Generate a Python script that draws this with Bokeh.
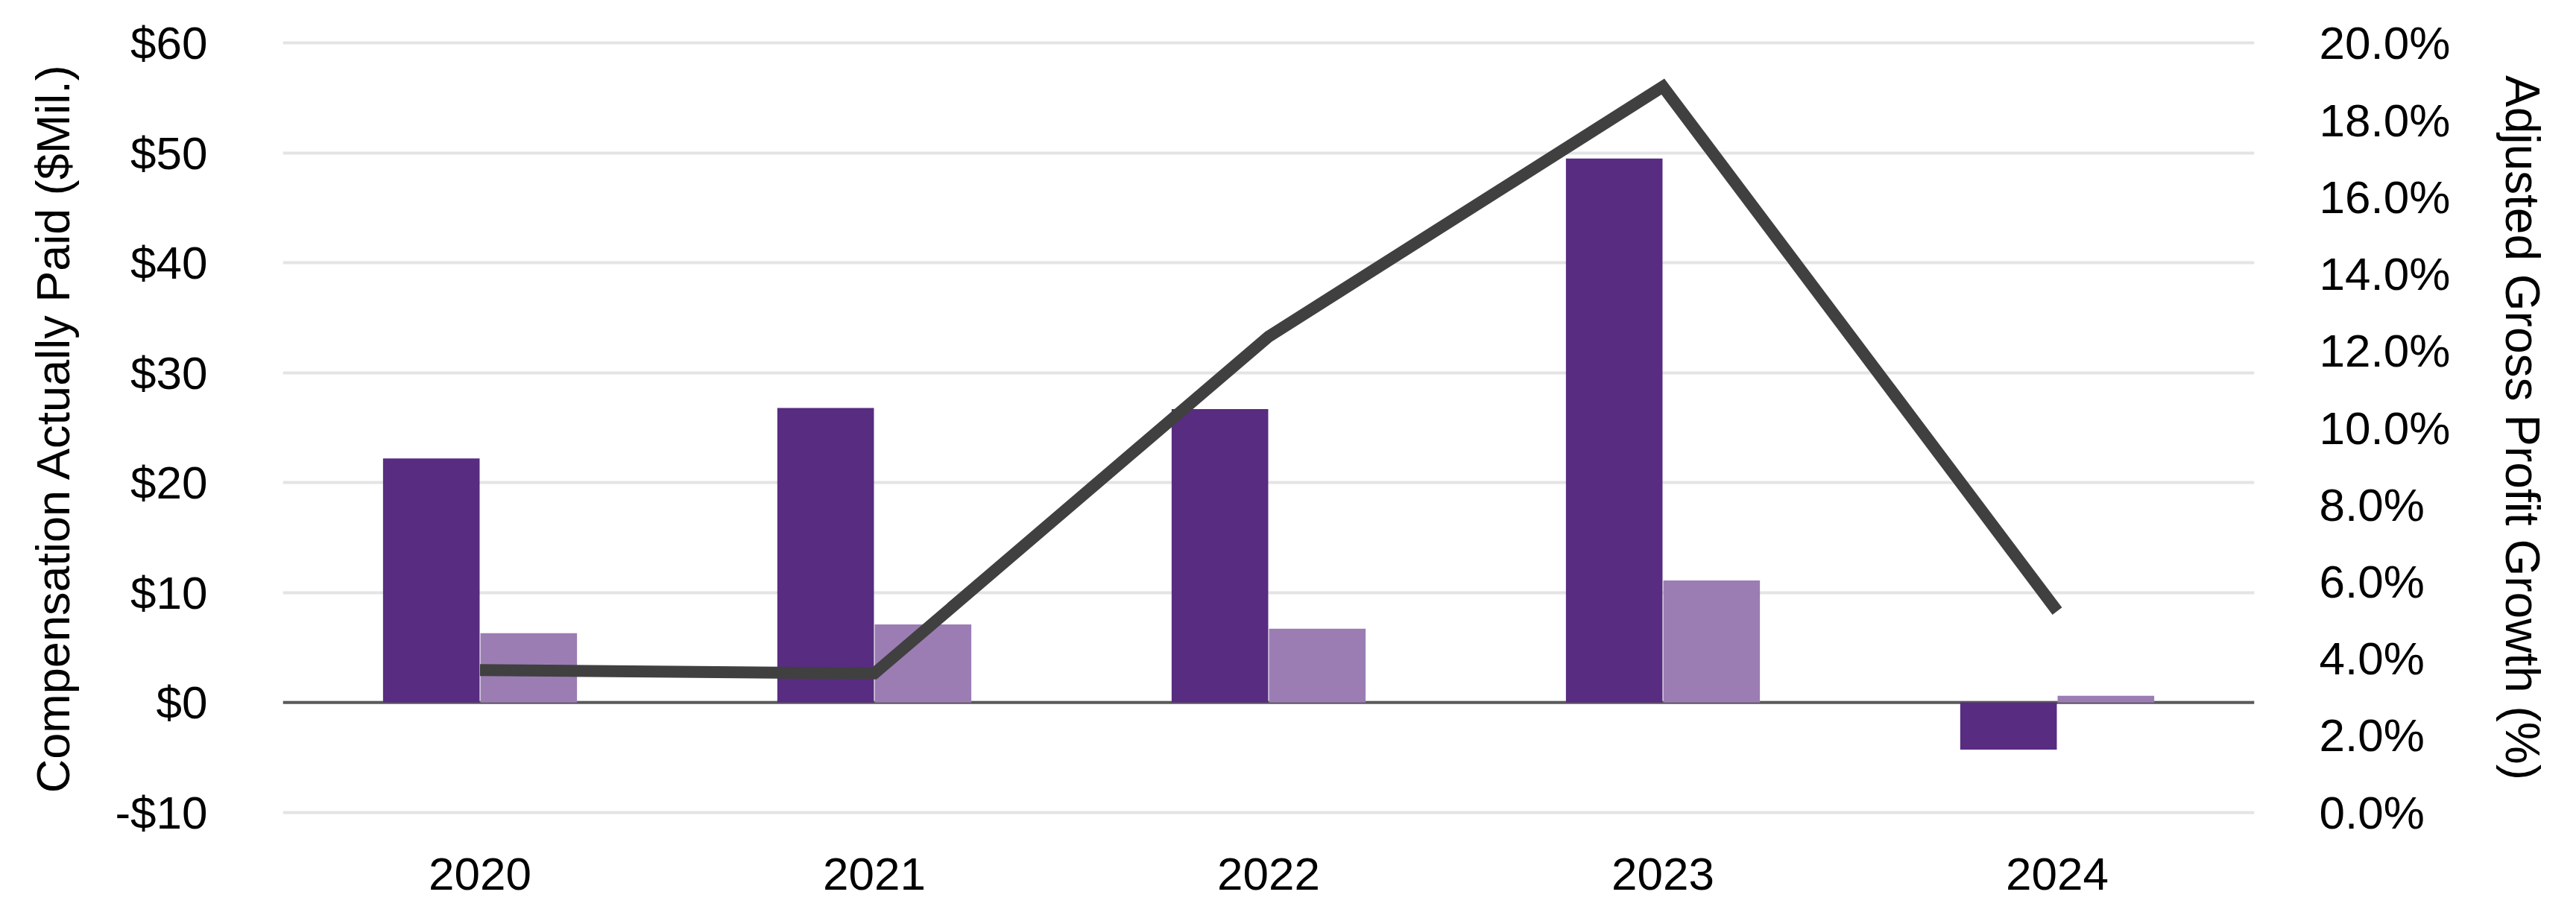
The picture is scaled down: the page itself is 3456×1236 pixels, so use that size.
from bokeh.plotting import figure
from bokeh.models import (ColumnDataSource, LinearAxis, Range1d, FixedTicker, Span)
from bokeh.transform import dodge
from bokeh.embed import file_html
from bokeh.resources import INLINE

# ---- data ----
years = ["2020", "2021", "2022", "2023", "2024"]
peo_cap = [22.2, 26.8, 26.7, 49.5, -4.3]          # $Mil, dark bars
neo_cap = [6.3, 7.1, 6.7, 11.1, 0.6]              # $Mil, light bars
gp_growth = [3.70, 3.61, 12.37, 18.87, 5.23]      # %, line

left_ticks = [-10, 0, 10, 20, 30, 40, 50, 60]
left_labels = ["-$10", "$0", "$10", "$20", "$30", "$40", "$50", "$60"]
right_ticks = [0, 2, 4, 6, 8, 10, 12, 14, 16, 18, 20]
right_labels = ["0.0%", "2.0%", "4.0%", "6.0%", "8.0%", "10.0%", "12.0%",
                "14.0%", "16.0%", "18.0%", "20.0%"]

left_title = "Compensation Actually Paid ($Mil.)"
right_title = "Adjusted Gross Profit Growth (%)"

# ---- styles ----
DARK = "#582C81"
LIGHT = "#9B7DB4"
LINE = "#404040"
GRID = "#E4E4E4"
ZERO = "#5A5A5A"
FONT = "Liberation Sans"
TICK_SIZE = "62px"

src = ColumnDataSource(dict(years=years, peo=peo_cap, neo=neo_cap, gp=gp_growth))

pad = 0.3
lo, hi = -10 - pad, 60 + pad
p = figure(x_range=years, y_range=Range1d(lo, hi),
           width=3456, height=1236,
           output_backend="svg", toolbar_location=None,
           min_border_left=379, min_border_right=432,
           min_border_top=53, min_border_bottom=142)
# right axis maps -10..60 -> 0..20
p.extra_y_ranges = {"right": Range1d((lo + 10) * 20 / 70, (hi + 10) * 20 / 70)}

p.outline_line_color = None
p.background_fill_color = "white"
p.border_fill_color = "white"
p.xgrid.grid_line_color = None
p.ygrid.grid_line_color = GRID
p.ygrid.grid_line_width = 4

zero = Span(location=0, dimension="width", line_color=ZERO, line_width=4, level="underlay")
p.add_layout(zero)

bw = 0.245
p.vbar(x=dodge("years", -0.1235, range=p.x_range), top="peo", bottom=0, width=bw,
       source=src, fill_color=DARK, line_color=None)
p.vbar(x=dodge("years", 0.1235, range=p.x_range), top="neo", bottom=0, width=bw,
       source=src, fill_color=LIGHT, line_color=None)
p.line(x="years", y="gp", source=src, y_range_name="right",
       line_color=LINE, line_width=16, line_join="miter", line_cap="butt")

def style_axis(ax, title_size="63px"):
    ax.axis_line_color = None
    ax.major_tick_line_color = None
    ax.minor_tick_line_color = None
    ax.major_tick_in = 0
    ax.major_tick_out = 0
    ax.major_label_text_font = FONT
    ax.major_label_text_font_size = TICK_SIZE
    ax.major_label_text_color = "#000000"
    ax.axis_label_text_font = FONT
    ax.axis_label_text_font_size = title_size
    ax.axis_label_text_font_style = "normal"
    ax.axis_label_text_color = "#000000"

# left axis
ly = p.yaxis[0]
style_axis(ly, "63px")
ly.ticker = FixedTicker(ticks=left_ticks)
ly.major_label_overrides = {t: l for t, l in zip(left_ticks, left_labels)}
ly.major_label_standoff = 101
ly.axis_label = left_title
ly.axis_label_standoff = 45

# right axis
ry = LinearAxis(y_range_name="right")
style_axis(ry, "64px")
ry.ticker = FixedTicker(ticks=right_ticks)
ry.major_label_overrides = {t: l for t, l in zip(right_ticks, right_labels)}
ry.major_label_standoff = 87
ry.axis_label = right_title
ry.axis_label_standoff = 58
p.add_layout(ry, "right")

# bottom axis
bx = p.xaxis[0]
style_axis(bx)
bx.major_label_standoff = 57

open("out.html", "w").write(file_html(p, INLINE))
